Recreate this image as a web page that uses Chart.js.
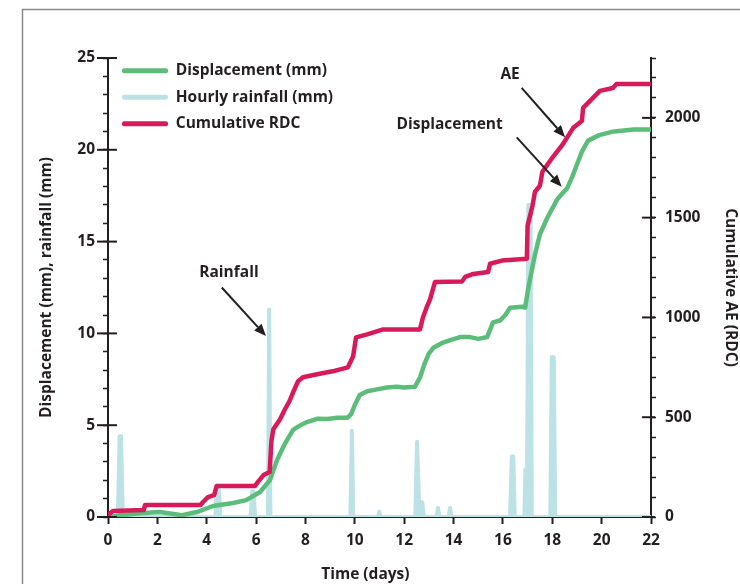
<!DOCTYPE html>
<html>
<head>
<meta charset="utf-8">
<script src="https://cdn.jsdelivr.net/npm/chart.js@4.4.1/dist/chart.umd.min.js"></script>
<style>
  html, body { margin: 0; padding: 0; background: #fff; }
  #wrap { width: 740px; height: 584px; }
</style>
</head>
<body>
<div id="wrap"><canvas id="chart" width="740" height="584"></canvas></div>
<script>
// Displacement (mm)
const dispDays = [0.08, 0.5, 1.3, 2.1, 3.0, 3.6, 4.25, 5.07, 5.6, 6.16, 6.56, 6.85, 7.17, 7.5, 7.8, 8.06, 8.47, 8.87, 9.3, 9.7, 9.85, 10.0, 10.2, 10.5, 10.9, 11.3, 11.7, 12.0, 12.44, 12.64, 12.84, 13.0, 13.17, 13.57, 13.9, 14.26, 14.67, 15.0, 15.36, 15.6, 15.88, 16.1, 16.29, 16.77, 16.9, 17.02, 17.15, 17.3, 17.5, 17.8, 18.2, 18.6, 18.8, 19.0, 19.2, 19.45, 19.9, 20.5, 21.3, 22.0];
const dispMm = [0, 0.1, 0.2, 0.27, 0.1, 0.27, 0.6, 0.76, 0.92, 1.36, 2.0, 3.1, 4.0, 4.75, 5.0, 5.17, 5.35, 5.34, 5.4, 5.4, 5.6, 6.1, 6.65, 6.85, 6.95, 7.05, 7.1, 7.05, 7.1, 7.6, 8.4, 8.9, 9.2, 9.5, 9.65, 9.8, 9.8, 9.7, 9.8, 10.6, 10.7, 11.0, 11.4, 11.45, 11.4, 12.4, 13.3, 14.3, 15.4, 16.3, 17.3, 17.9, 18.5, 19.2, 19.9, 20.5, 20.8, 21.0, 21.1, 21.1];

// Hourly rainfall (mm)
const rainDays = [0, 0.4, 0.47, 0.53, 0.6, 4.35, 4.41, 4.49, 4.55, 5.78, 5.84, 5.9, 5.96, 6.48, 6.53, 6.58, 9.82, 9.88, 9.94, 10.94, 10.99, 11.04, 12.45, 12.52, 12.6, 12.66, 12.73, 12.8, 13.31, 13.37, 13.43, 13.8, 13.86, 13.92, 16.29, 16.36, 16.42, 16.48, 16.87, 16.91, 16.98, 17.03, 17.12, 17.17, 17.92, 17.98, 18.06, 18.12, 22.0];
const rainMm = [0, 0, 4.4, 4.4, 0, 0, 1.6, 1.6, 0, 0, 1.4, 1.4, 0, 0, 11.3, 0, 0, 4.7, 0, 0, 0.3, 0, 0, 4.1, 0.9, 0.8, 0.8, 0, 0, 0.5, 0, 0, 0.5, 0, 0, 3.3, 3.3, 0, 0, 2.6, 2.6, 17.0, 17.0, 0, 0, 8.7, 8.7, 0, 0];

// Cumulative acoustic emission (RDC)
const aeDays = [0.05, 0.2, 1.45, 1.5, 3.75, 3.85, 4.05, 4.3, 4.4, 5.95, 6.1, 6.3, 6.55, 6.62, 6.7, 6.97, 7.17, 7.35, 7.5, 7.7, 7.9, 8.47, 9.1, 9.72, 9.93, 10.05, 10.5, 11.15, 12.64, 12.76, 12.93, 13.05, 13.25, 14.34, 14.47, 14.8, 15.4, 15.48, 15.96, 16.97, 17.0, 17.2, 17.3, 17.5, 17.6, 18.0, 18.4, 18.85, 19.2, 19.25, 19.65, 19.93, 20.46, 20.6, 22.0];
const aeRdc = [15, 30, 35, 60, 60, 75, 100, 110, 155, 155, 180, 210, 225, 380, 440, 490, 540, 580, 625, 680, 700, 715, 730, 750, 805, 900, 915, 940, 940, 1000, 1057, 1092, 1178, 1180, 1203, 1218, 1228, 1269, 1285, 1294, 1460, 1560, 1630, 1660, 1730, 1800, 1863, 1950, 1984, 2050, 2100, 2135, 2150, 2170, 2170];

const xTicks = [0, 22, 2];      // min, max, step
const yTicks = [0, 25, 5];
const y1Ticks = [0, 2300, 500];

const ink = '#231f20';
const green = '#5cbd7b';
const blue = '#bce2e6';
const red = '#d91a5a';
const font = { family: '"Open Sans", sans-serif', size: 15.5, weight: '700' };

function pairs(xs, ys) {
    return xs.map((x, i) => ({ x: x, y: ys[i] }));
}

// labelled callouts, anchored in data units
const notes = [
    { text: 'Rainfall', axis: 'y', at: [4.9, 13.3], from: [4.61, 12.5], to: [6.4, 9.86] },
    { text: 'AE', axis: 'y1', at: [16.29, 2218], from: [16.76, 2150], to: [18.52, 1903] },
    { text: 'Displacement', axis: 'y', at: [13.84, 21.35], from: [16.56, 20.68], to: [18.38, 17.99] }
];

const decorations = {
    id: 'decorations',
    afterLayout(chart) {
        // legend sits inside the plot, top left
        chart.legend.top = chart.chartArea.top - 6;
        chart.legend.left = chart.chartArea.left + 3;
    },
    afterDraw(chart) {
        const ctx = chart.ctx;
        const sx = chart.scales.x;
        ctx.save();

        // page frame
        ctx.strokeStyle = '#8a8a8a';
        ctx.lineWidth = 1.5;
        ctx.beginPath();
        ctx.moveTo(740, 9.5);
        ctx.lineTo(22.5, 9.5);
        ctx.lineTo(22.5, 584);
        ctx.stroke();

        // major ticks crossing the y axes
        ctx.strokeStyle = ink;
        ctx.lineWidth = 2;
        const sy = chart.scales.y;
        for (let v = yTicks[0]; v <= yTicks[1]; v += yTicks[2]) {
            const p = sy.getPixelForValue(v);
            ctx.beginPath();
            ctx.moveTo(sy.right - 11, p);
            ctx.lineTo(sy.right + 9, p);
            ctx.stroke();
        }
        const sy1 = chart.scales.y1;
        for (let v = y1Ticks[0]; v <= 2000; v += y1Ticks[2]) {
            const p = sy1.getPixelForValue(v);
            ctx.beginPath();
            ctx.moveTo(sy1.left - 9, p);
            ctx.lineTo(sy1.left + 4, p);
            ctx.stroke();
        }

        // callouts
        ctx.fillStyle = ink;
        ctx.font = '700 15.5px "Open Sans", sans-serif';
        ctx.textAlign = 'center';
        ctx.textBaseline = 'middle';
        notes.forEach(n => {
            const ys = chart.scales[n.axis];
            ctx.fillText(n.text, sx.getPixelForValue(n.at[0]), ys.getPixelForValue(n.at[1]));
            const x0 = sx.getPixelForValue(n.from[0]), y0 = ys.getPixelForValue(n.from[1]);
            const x1 = sx.getPixelForValue(n.to[0]), y1 = ys.getPixelForValue(n.to[1]);
            const ang = Math.atan2(y1 - y0, x1 - x0);
            const head = 12, half = 5;
            const bx = x1 - head * Math.cos(ang), by = y1 - head * Math.sin(ang);
            ctx.lineWidth = 2;
            ctx.beginPath();
            ctx.moveTo(x0, y0);
            ctx.lineTo(bx, by);
            ctx.stroke();
            ctx.beginPath();
            ctx.moveTo(x1, y1);
            ctx.lineTo(bx + half * Math.sin(ang), by - half * Math.cos(ang));
            ctx.lineTo(bx - half * Math.sin(ang), by + half * Math.cos(ang));
            ctx.closePath();
            ctx.fill();
        });
        ctx.restore();
    }
};

new Chart(document.getElementById('chart'), {
    type: 'line',
    data: {
        datasets: [
            {
                label: 'Displacement (mm)',
                data: pairs(dispDays, dispMm),
                borderColor: green,
                backgroundColor: green,
                borderWidth: 4.5,
                yAxisID: 'y',
                order: 1
            },
            {
                label: 'Hourly rainfall (mm)',
                data: pairs(rainDays, rainMm),
                borderColor: blue,
                backgroundColor: blue,
                borderWidth: 4,
                fill: 'origin',
                yAxisID: 'y',
                order: 2
            },
            {
                label: 'Cumulative RDC',
                data: pairs(aeDays, aeRdc),
                borderColor: red,
                backgroundColor: red,
                borderWidth: 4.5,
                yAxisID: 'y1',
                order: 0
            }
        ]
    },
    options: {
        responsive: false,
        animation: false,
        layout: { padding: { top: 58, left: 0, right: 0, bottom: 0 } },
        elements: {
            point: { radius: 0 },
            line: { tension: 0, borderJoinStyle: 'round', borderCapStyle: 'round' }
        },
        plugins: {
            tooltip: { enabled: false },
            legend: {
                position: 'chartArea',
                align: 'start',
                labels: {
                    boxWidth: 46,
                    boxHeight: 5,
                    padding: 11,
                    color: ink,
                    font: font,
                    generateLabels: chart => chart.data.datasets.map((ds, i) => ({
                        text: ds.label,
                        fillStyle: ds.borderColor,
                        strokeStyle: ds.borderColor,
                        lineWidth: 0,
                        borderRadius: 2,
                        fontColor: ink,
                        hidden: false,
                        datasetIndex: i
                    }))
                }
            }
        },
        scales: {
            x: {
                type: 'linear',
                min: xTicks[0],
                max: xTicks[1],
                afterFit: s => { s.height = 67; },
                ticks: { stepSize: xTicks[2], color: ink, font: font, padding: 7, maxRotation: 0 },
                grid: { drawOnChartArea: false, tickLength: 7, tickColor: ink, tickWidth: 2 },
                border: { color: ink, width: 2 },
                title: { display: true, text: 'Time (days)\u00a0\u00a0\u00a0\u00a0\u00a0\u00a0\u00a0', color: ink, font: font, padding: { top: 0, bottom: 0 } }
            },
            y: {
                position: 'left',
                min: yTicks[0],
                max: yTicks[1],
                afterFit: s => { s.width = 108; },
                ticks: {
                    stepSize: 1,
                    autoSkip: false,
                    color: ink,
                    font: font,
                    padding: 8,
                    callback: v => (v % yTicks[2] === 0 ? v : '')
                },
                grid: { drawOnChartArea: false, tickLength: 5, tickColor: ink, tickWidth: 1.5 },
                border: { color: ink, width: 2 },
                title: { display: true, text: 'Displacement (mm), rainfall (mm)', color: ink, font: font, padding: { top: 37, bottom: 0 } }
            },
            y1: {
                position: 'right',
                min: y1Ticks[0],
                max: y1Ticks[1],
                afterFit: s => { s.width = 89; },
                ticks: {
                    stepSize: 100,
                    autoSkip: false,
                    color: ink,
                    font: font,
                    padding: 9,
                    callback: v => (v % y1Ticks[2] === 0 ? v : '')
                },
                grid: { drawOnChartArea: false, tickLength: 5, tickColor: ink, tickWidth: 1.5 },
                border: { color: ink, width: 2 },
                title: { display: true, text: 'Cumulative AE (RDC)', color: ink, font: font, padding: { top: 0, bottom: 0 } }
            }
        }
    },
    plugins: [decorations]
});
</script>
</body>
</html>
